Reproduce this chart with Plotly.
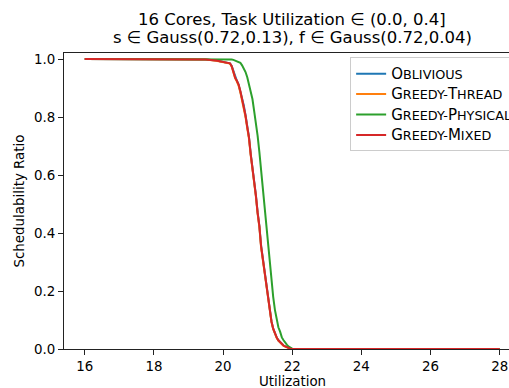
import plotly.graph_objects as go

# ---- data ----
util_x = [16, 19.0, 19.5, 19.8, 20.0, 20.1, 20.2, 20.25, 20.3, 20.35, 20.4, 20.45, 20.5,
          20.55, 20.6, 20.65, 20.7, 20.75, 20.8, 20.85, 20.9, 20.95, 21.0, 21.05, 21.1,
          21.15, 21.2, 21.25, 21.3, 21.35, 21.4, 21.45, 21.5, 21.55, 21.6, 21.65, 21.7,
          21.75, 21.8, 21.85, 21.9, 21.95, 22.0, 22.05, 28]

oblivious = [1.0, 1.0, 0.998, 0.995, 0.99, 0.988, 0.985, 0.976, 0.956, 0.936, 0.925, 0.912, 0.89,
             0.863, 0.84, 0.806, 0.766, 0.731, 0.673, 0.63, 0.576, 0.53, 0.471, 0.425, 0.356,
             0.31, 0.262, 0.22, 0.171, 0.126, 0.096, 0.07, 0.052, 0.04, 0.03, 0.024, 0.016,
             0.012, 0.009, 0.006, 0.003, 0.001, 0.0, 0.0, 0.0]
greedy_thread = [1.0, 1.0, 0.998, 0.994, 0.99, 0.987, 0.984, 0.974, 0.953, 0.934, 0.922, 0.908, 0.885,
                 0.86, 0.835, 0.8, 0.762, 0.725, 0.668, 0.625, 0.57, 0.525, 0.466, 0.42, 0.35,
                 0.305, 0.258, 0.215, 0.168, 0.124, 0.094, 0.069, 0.051, 0.039, 0.029, 0.023, 0.015,
                 0.011, 0.008, 0.005, 0.003, 0.001, 0.0, 0.0, 0.0]
greedy_physical = [1.0, 1.0, 1.0, 1.0, 1.0, 0.999, 0.999, 0.998, 0.997, 0.995, 0.993, 0.99, 0.987,
                   0.978, 0.968, 0.955, 0.937, 0.915, 0.89, 0.862, 0.82, 0.785, 0.735, 0.68, 0.615,
                   0.555, 0.49, 0.425, 0.36, 0.285, 0.23, 0.18, 0.135, 0.1, 0.075, 0.06, 0.04,
                   0.03, 0.02, 0.014, 0.008, 0.003, 0.001, 0.0, 0.0]
greedy_mixed = [1.0, 1.0, 0.998, 0.995, 0.99, 0.988, 0.985, 0.975, 0.955, 0.935, 0.925, 0.912, 0.89,
                0.862, 0.84, 0.805, 0.765, 0.73, 0.672, 0.63, 0.575, 0.53, 0.47, 0.425, 0.355,
                0.31, 0.26, 0.22, 0.17, 0.125, 0.095, 0.07, 0.052, 0.04, 0.03, 0.024, 0.016,
                0.012, 0.009, 0.006, 0.003, 0.001, 0.0, 0.0, 0.0]

series_names = ["Oblivious", "Greedy-Thread", "Greedy-Physical", "Greedy-Mixed"]
series_values = [oblivious, greedy_thread, greedy_physical, greedy_mixed]
colors = ["#1f77b4", "#ff7f0e", "#2ca02c", "#d62728"]

x_ticks = [16, 18, 20, 22, 24, 26, 28]
y_ticks = [0.0, 0.2, 0.4, 0.6, 0.8, 1.0]

title_line1 = "16 Cores, Task Utilization ∈ (0.0, 0.4]"
title_line2 = "s ∈ Gauss(0.72,0.13), f ∈ Gauss(0.72,0.04)"
x_label = "Utilization"
y_label = "Schedulability Ratio"

FONT = "DejaVu Sans"
BIG = "font-size:15px"
SMALL = "font-size:12.8px"


def small_caps(label):
    # first letter of each word full size, the rest as smaller capitals
    out = []
    for part in label.split("-"):
        out.append("<span style='" + BIG + "'>" + part[0].upper() + "</span>"
                   + "<span style='" + SMALL + "'>" + part[1:].upper() + "</span>")
    return ("<span style='" + SMALL + "'>-</span>").join(out)


fig = go.Figure()
for name, vals, col in zip(series_names, series_values, colors):
    fig.add_trace(go.Scatter(x=util_x, y=vals, mode="lines", name=small_caps(name),
                             line=dict(color=col, width=2)))

fig.update_layout(
    template="none",
    width=509, height=388,
    margin=dict(l=64, r=0, t=53, b=39, autoexpand=False),
    paper_bgcolor="white", plot_bgcolor="white",
    font=dict(family=FONT, size=13.4, color="black"),
    showlegend=True,
    legend=dict(x=0.643, y=0.985, xanchor="left", yanchor="top",
                bgcolor="rgba(255,255,255,0.8)", bordercolor="#cccccc", borderwidth=1,
                font=dict(family=FONT, size=13.4, color="black")),
    annotations=[
        dict(text=title_line1, x=0.5124, y=1.112, xref="paper", yref="paper",
             xanchor="center", yanchor="middle", showarrow=False,
             font=dict(family=FONT, size=16.5, color="black")),
        dict(text=title_line2, x=0.5124, y=1.053, xref="paper", yref="paper",
             xanchor="center", yanchor="middle", showarrow=False,
             font=dict(family=FONT, size=16.5, color="black")),
        dict(text=x_label, x=0.5124, y=-0.111, xref="paper", yref="paper",
             xanchor="center", yanchor="middle", showarrow=False,
             font=dict(family=FONT, size=13.4, color="black")),
    ],
)

fig.update_xaxes(range=[15.4, 28.27], tickvals=x_ticks, ticktext=[str(v) for v in x_ticks],
                 automargin=True,
                 showgrid=False, zeroline=False, showline=True, linecolor="#222", linewidth=1,
                 mirror=True, ticks="outside", ticklen=5, tickwidth=1, tickcolor="#222")
fig.update_yaxes(range=[0, 1.0207], tickvals=y_ticks, tickformat=".1f",
                 automargin=True,
                 showgrid=False, zeroline=False, showline=True, linecolor="#222", linewidth=1,
                 mirror=False, ticks="outside", ticklen=5, tickwidth=1, tickcolor="#222",
                 title=dict(text=y_label, standoff=6, font=dict(size=13.4)))

fig.write_html("out.html", config={"displayModeBar": False},
               post_script="document.body.style.margin='0';document.body.style.overflow='hidden';")
